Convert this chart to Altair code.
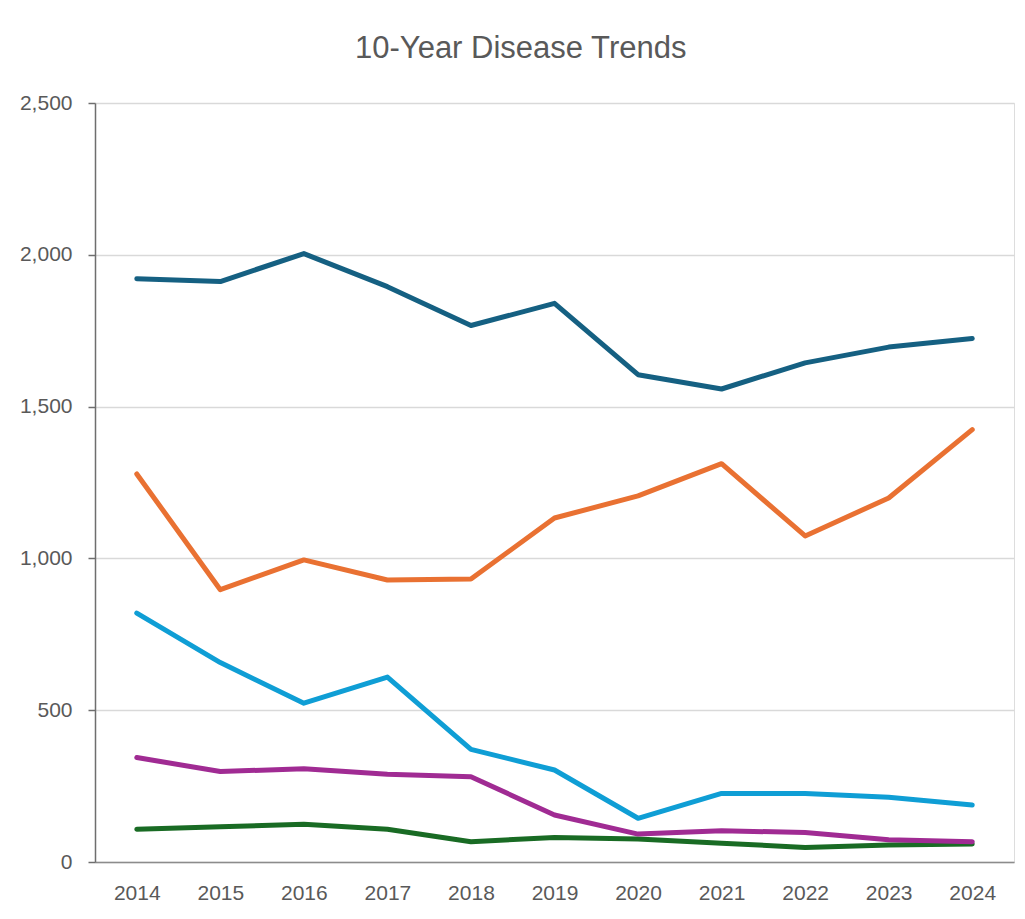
import altair as alt
import pandas as pd

years = [str(y) for y in range(2014, 2025)]
series_names = ["Disease 1", "Disease 2", "Disease 3", "Disease 4", "Disease 5"]
series_colors = ["#156082", "#E97132", "#196B24", "#0F9ED5", "#A02B93"]

disease_1 = [1921, 1912, 2004, 1895, 1767, 1840, 1605, 1558, 1644, 1696, 1724]
disease_2 = [1278, 897, 995, 929, 932, 1133, 1206, 1312, 1074, 1199, 1424]
disease_3 = [108, 116, 124, 108, 67, 81, 76, 62, 48, 56, 59]
disease_4 = [820, 657, 523, 609, 371, 303, 144, 226, 226, 213, 188]
disease_5 = [344, 298, 307, 289, 281, 155, 92, 103, 97, 73, 67]

all_series = [disease_1, disease_2, disease_3, disease_4, disease_5]

rows = []
for order, (name, vals) in enumerate(zip(series_names, all_series)):
    for yr, v in zip(years, vals):
        rows.append({"Year": yr, "Series": name, "Value": v, "ord": order})
df = pd.DataFrame(rows)

FONT = "Liberation Sans"
TEXT = "#595959"

chart = (
    alt.Chart(df)
    .mark_line(strokeWidth=5, strokeCap="round", strokeJoin="round")
    .encode(
        x=alt.X(
            "Year:O",
            sort=years,
            scale=alt.Scale(type="point", padding=0.5),
            axis=alt.Axis(
                title=None,
                labelAngle=0,
                ticks=False,
                grid=False,
                domainColor="#8C8C8C",
                domainWidth=1.5,
                labelFontSize=21,
                labelFont=FONT,
                labelColor=TEXT,
                labelPadding=20,
            ),
        ),
        y=alt.Y(
            "Value:Q",
            scale=alt.Scale(domain=[0, 2500], nice=False, zero=True),
            axis=alt.Axis(
                title=None,
                values=[0, 500, 1000, 1500, 2000, 2500],
                format=",d",
                grid=True,
                gridColor="#D9D9D9",
                gridWidth=1.5,
                domainColor="#6E6E6E",
                domainWidth=1.5,
                tickColor="#6E6E6E",
                tickWidth=1.5,
                tickSize=7,
                labelFontSize=21,
                labelFont=FONT,
                labelColor=TEXT,
                labelPadding=16,
            ),
        ),
        color=alt.Color(
            "Series:N",
            scale=alt.Scale(domain=series_names, range=series_colors),
            legend=None,
        ),
        order=alt.Order("ord:Q"),
    )
    .properties(
        width=919,
        height=759,
        title=alt.TitleParams(
            text="10-Year Disease Trends",
            font=FONT,
            fontSize=31,
            fontWeight="normal",
            color=TEXT,
            anchor="middle",
            frame="bounds",
            baseline="alphabetic",
            offset=3,
            dx=4,
        ),
        autosize=alt.AutoSizeParams(type="none"),
        padding={"left": 87, "top": 95, "right": 2, "bottom": 50},
    )
    .configure_view(stroke=None)
    .configure(background="white")
)

chart.save("out.html", embed_options={"renderer": "svg", "actions": False})
